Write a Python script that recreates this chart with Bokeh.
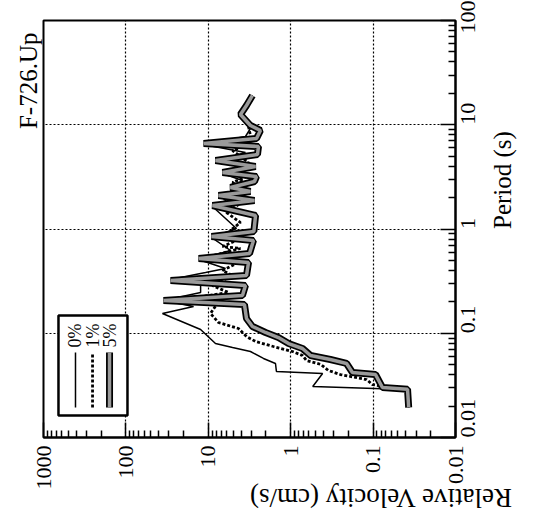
import math

from bokeh.embed import file_html
from bokeh.models import ColumnDataSource, FixedTicker, Label, Range1d, Title
from bokeh.plotting import figure
from bokeh.resources import INLINE

FONT = "Liberation Serif"

# Axis ticks and their labels
vel_ticks = [1000, 100, 10, 1, 0.1, 0.01]
vel_tick_labels = ["1000", "100", "10", "1", "0.1", "0.01"]
per_ticks = [0.01, 0.1, 1, 10, 100]
per_tick_labels = ["0.01", "0.1", "1", "10", "100"]

title_text = "F-726.Up"
vel_axis_title = "Relative Velocity (cm/s)"
per_axis_title = "Period (s)"
series_names = ["0%", "1%", "5%"]

# Relative velocity response spectra, damping 0 %
period_0 = [0.0194, 0.0289, 0.0308, 0.0411, 0.0430, 0.0513, 0.0573, 0.0668, 0.0730,
            0.0797, 0.1086, 0.1546, 0.1806, 0.206, 0.246, 0.2935, 0.3279, 0.3826,
            0.418, 0.5099, 0.622, 0.829, 1.011, 1.644, 1.88, 2.05, 2.34, 2.446,
            2.92, 3.407, 3.977, 4.442, 5.417, 6.466, 7.715, 9.204, 12.27, 14.97, 19.1]
vel_0 = [0.037, 0.0404, 0.54, 0.41, 1.49, 1.53, 2.14, 3.08, 5.08,
         8.18, 12.4, 36.0, 15.1, 35.0, 12.4, 12.4, 28.7, 10.8,
         6.18, 13.1, 5.38, 9.15, 4.55, 8.90, 4.30, 7.52, 4.07, 5.38,
         3.85, 6.72, 4.07, 8.18, 3.54, 11.4, 3.54, 3.08, 4.07, 3.44, 2.91]

# damping 1 %
period_1 = [0.0194, 0.0282, 0.0322, 0.0360, 0.0402, 0.0440, 0.0502, 0.0548, 0.0612,
            0.0668, 0.0746, 0.0833, 0.0931, 0.111, 0.1268, 0.1546, 0.1887, 0.2154,
            0.246, 0.2871, 0.3581, 0.400, 0.4774, 0.5328, 0.6501, 0.6795, 0.8108,
            0.97, 1.154, 1.44, 1.718, 1.961, 2.34, 2.793, 3.189, 3.804, 4.344,
            5.66, 6.466, 7.885, 9.621, 12.54, 14.97, 19.1]
vel_1 = [0.037, 0.0382, 0.1017, 0.1202, 0.25, 0.35, 0.43, 0.643, 0.719,
         0.951, 1.62, 2.67, 3.44, 4.30, 7.52, 9.4, 7.95, 17.4,
         5.69, 8.90, 5.08, 6.72, 4.30, 10.8, 4.07, 6.72, 4.07,
         5.38, 4.07, 6.01, 4.30, 6.72, 3.64, 5.08, 3.44, 4.07, 3.25,
         5.08, 3.25, 3.08, 3.25, 4.07, 3.44, 2.91]

# damping 5 %
period_5 = [0.0194, 0.0290, 0.0302, 0.0402, 0.0420, 0.0513, 0.0560, 0.0612, 0.0714,
            0.0797, 0.0910, 0.1017, 0.1161, 0.1385, 0.1887, 0.206, 0.2302, 0.2871,
            0.321, 0.3581, 0.4774, 0.5212, 0.5821, 0.776, 0.8475, 0.9463, 1.347,
            1.68, 1.88, 2.096, 2.289, 2.501, 2.855, 3.189, 3.483, 3.977, 4.54,
            5.184, 6.184, 6.607, 7.381, 8.81, 9.84, 12.54, 15.3, 19.1]
vel_5 = [0.037, 0.0382, 0.077, 0.0935, 0.178, 0.210, 0.33, 0.575, 0.719,
         1.06, 1.41, 2.02, 2.91, 3.44, 3.64, 35.0, 3.85, 3.54,
         28.7, 3.44, 3.25, 13.1, 3.16, 2.83, 9.15, 2.80, 2.67,
         8.90, 2.75, 7.52, 3.08, 5.38, 2.75, 2.60, 6.72, 2.67, 8.18,
         2.53, 2.46, 11.4, 2.60, 2.33, 3.08, 4.07, 3.44, 2.91]

p = figure(
    frame_width=412, frame_height=417,
    x_axis_type="log", y_axis_type="log",
    x_range=Range1d(1000, 0.01), y_range=Range1d(0.01, 100),
    y_axis_location="right",
    min_border_left=43, min_border_top=20, min_border_right=89, min_border_bottom=94,
    output_backend="svg", toolbar_location=None,
    background_fill_color="white", border_fill_color="white",
)
p.outline_line_color = "black"
p.outline_line_width = 2

minor_vel = [m * 10.0 ** e for e in range(-2, 3) for m in range(2, 10)]
minor_per = [m * 10.0 ** e for e in range(-2, 2) for m in range(2, 10)]

# velocity axis (horizontal, decreasing to the right)
xa = p.xaxis[0]
xa.ticker = FixedTicker(ticks=vel_ticks, minor_ticks=minor_vel)
xa.major_label_overrides = dict(zip(vel_ticks, vel_tick_labels))
xa.major_label_orientation = math.pi / 2
xa.major_label_standoff = 8
xa.major_label_text_font = FONT
xa.major_label_text_font_size = "22px"
xa.major_label_text_color = "black"
xa.major_tick_in = 15
xa.major_tick_out = 0
xa.minor_tick_in = 7
xa.minor_tick_out = 0
xa.axis_line_width = 2
xa.major_tick_line_width = 1.5
xa.minor_tick_line_width = 1.5
xa.axis_label = vel_axis_title
xa.axis_label_text_font = FONT
xa.axis_label_text_font_size = "27px"
xa.axis_label_text_font_style = "normal"
xa.axis_label_text_color = "black"
xa.axis_label_standoff = 5

# period axis (vertical, on the right)
ya = p.yaxis[0]
ya.ticker = FixedTicker(ticks=per_ticks, minor_ticks=minor_per)
ya.major_label_overrides = dict(zip(per_ticks, per_tick_labels))
ya.major_label_orientation = math.pi / 2
ya.major_label_standoff = 12
ya.major_label_text_font = FONT
ya.major_label_text_font_size = "22px"
ya.major_label_text_color = "black"
ya.major_tick_in = 15
ya.major_tick_out = 0
ya.minor_tick_in = 7
ya.minor_tick_out = 0
ya.axis_line_width = 2
ya.major_tick_line_width = 1.5
ya.minor_tick_line_width = 1.5
ya.axis_label = per_axis_title
ya.axis_label_text_font = FONT
ya.axis_label_text_font_size = "25px"
ya.axis_label_text_font_style = "normal"
ya.axis_label_text_color = "black"
ya.axis_label_standoff = 18

# both axis titles are turned with the rest of the page
xa.axis_label_orientation = math.pi
ya.axis_label_orientation = math.pi / 2

p.xgrid.ticker = FixedTicker(ticks=vel_ticks)
p.ygrid.ticker = FixedTicker(ticks=per_ticks)
p.grid.grid_line_color = "black"
p.grid.grid_line_dash = "2 2"
p.grid.grid_line_width = 1.2

src0 = ColumnDataSource(dict(v=vel_0, t=period_0))
src1 = ColumnDataSource(dict(v=vel_1, t=period_1))
src5 = ColumnDataSource(dict(v=vel_5, t=period_5))

p.line("v", "t", source=src0, line_color="black", line_width=1.5)
p.line("v", "t", source=src1, line_color="black", line_width=2.8, line_dash="3 2")
p.line("v", "t", source=src5, line_color="black", line_width=7)
p.line("v", "t", source=src5, line_color="#9a9a9a", line_width=3.5)

# legend box with vertical samples
p.quad(left=[658], right=[95.7], bottom=[0.0163], top=[0.148],
       fill_color="white", line_color="black", line_width=2.5)
leg_x = [409, 254, 158]
leg_y = [0.0194, 0.0653]
p.line(x=[leg_x[0]] * 2, y=leg_y, line_color="black", line_width=1.5)
p.line(x=[leg_x[1]] * 2, y=leg_y, line_color="black", line_width=2.8, line_dash="3 2")
p.line(x=[leg_x[2]] * 2, y=leg_y, line_color="black", line_width=7)
p.line(x=[leg_x[2]] * 2, y=leg_y, line_color="#9a9a9a", line_width=3.5)
for lx, name in zip(leg_x, series_names):
    p.add_layout(Label(x=lx, y=0.073, text=name, angle=math.pi / 2,
                       text_align="left", text_baseline="middle",
                       text_font=FONT, text_font_size="18px", text_color="black"))

# chart title, rotated along the left edge
p.add_layout(Title(text=title_text, align="right", offset=12, standoff=4,
                   text_font=FONT, text_font_size="25px", text_font_style="normal",
                   text_color="black"), "left")

open("out.html", "w").write(file_html(p, INLINE))
